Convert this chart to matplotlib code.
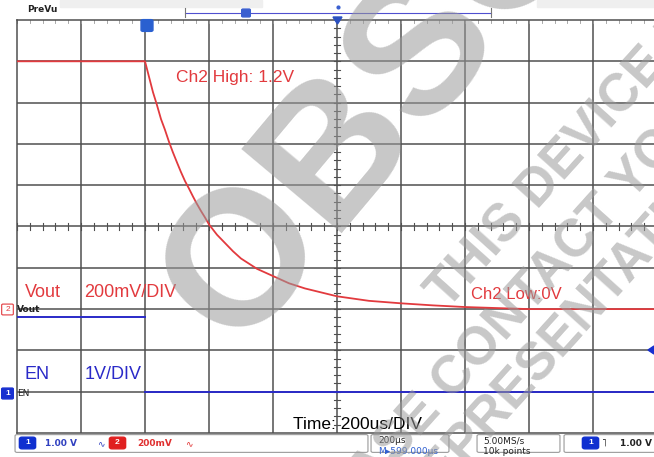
import numpy as np
import matplotlib
matplotlib.use('Agg')
import matplotlib.pyplot as plt
from matplotlib.patches import FancyBboxPatch, Rectangle, Polygon

plt.rcParams['font.family'] = ['Liberation Sans', 'DejaVu Sans']

W, H = 654, 457

# time base (us) and vertical settings
t_min, t_max = -400, 1600
n_div_y = 10
vout_zero_div = 3      # Ch2 ground marker
vout_scale = 0.2       # 200mV/div
en_zero_div = 1        # Ch1 ground marker
en_scale = 1.0         # 1V/div

# Vout (Ch2) samples, time in us, volts
vout_t = [-400, -200, 0, 10, 25, 37, 50, 62, 75, 87, 100, 112, 125, 137, 150, 162, 175, 187,
          200, 225, 250, 275, 300, 325, 350, 400, 450, 500, 600, 700, 800, 900, 1000,
          1100, 1200, 1400, 1600]
vout_v = [1.2, 1.2, 1.2, 1.14, 1.05, 0.99, 0.92, 0.87, 0.81, 0.76, 0.71, 0.665, 0.62, 0.585,
          0.545, 0.51, 0.475, 0.445, 0.41, 0.36, 0.32, 0.28, 0.245, 0.22, 0.195, 0.16, 0.125,
          0.10, 0.062, 0.04, 0.028, 0.018, 0.01, 0.005, 0.0, 0.0, 0.0]

# EN (Ch1) samples
en_t = [-400, 0, 0, 1600]
en_v = [1.8, 1.8, 0.0, 0.0]

red = '#e23a3e'
blue = '#2a2ac8'
grid_c = '#4f4f4f'


def fx(x):
    return x / W


def fy(y):
    return 1 - y / H


fig = plt.figure(figsize=(W / 100, H / 100), dpi=100)
fig.patch.set_facecolor('white')

ax = fig.add_axes([fx(17), fy(433), 640 / W, 413 / H])
ax.set_xlim(t_min, t_max)
ax.set_ylim(0, n_div_y)
ax.set_xticks([])
ax.set_yticks([])
for s in ax.spines.values():
    s.set_color(grid_c)
    s.set_linewidth(1.1)

# graticule
for xv in range(t_min + 200, t_max, 200):
    ax.axvline(xv, color=grid_c, lw=1.1, zorder=1)
for yv in range(1, n_div_y):
    ax.axhline(yv, color=grid_c, lw=1.1, zorder=1)
# minor ticks on the center lines
tc = (t_min + t_max) / 2
for k in np.arange(0, n_div_y, 0.2):
    ax.plot([tc - 8, tc + 8], [k, k], color=grid_c, lw=0.8, zorder=1)
for k in np.arange(t_min, t_max, 40):
    ax.plot([k, k], [5 - 0.08, 5 + 0.08], color=grid_c, lw=0.8, zorder=1)
    ax.plot([k, k], [n_div_y - 0.08, n_div_y], color='#9a9a9a', lw=0.6, zorder=1)

# traces
vout_t = np.array(vout_t)
vout_div = vout_zero_div + np.array(vout_v) / vout_scale
ax.plot(vout_t, vout_div, color=red, lw=1.3, zorder=3)

en_t = np.array(en_t)
en_v = np.array(en_v)
en_div = en_zero_div + en_v / en_scale
hi = en_v > 0
ax.plot(en_t[hi], en_div[hi], color=blue, lw=1.4, zorder=3)
ax.plot(en_t[~hi], en_div[~hi], color=blue, lw=1.4, zorder=3)

# annotations on screen
ax.text(0.012, (vout_zero_div + 0.2) / n_div_y, 'Vout', transform=ax.transAxes, color=red, fontsize=13, va='bottom')
ax.text(0.105, (vout_zero_div + 0.2) / n_div_y, '200mV/DIV', transform=ax.transAxes, color=red, fontsize=13, va='bottom')
ax.text(0.012, (en_zero_div + 0.2) / n_div_y, 'EN', transform=ax.transAxes, color=blue, fontsize=13, va='bottom')
ax.text(0.105, (en_zero_div + 0.2) / n_div_y, '1V/DIV', transform=ax.transAxes, color=blue, fontsize=13, va='bottom')
ax.text((176 - 17) / 640, 1 - (82 - 20) / 413, 'Ch2 High: 1.2V', transform=ax.transAxes, color=red, fontsize=12.5, va='baseline')
ax.text((471 - 17) / 640, 1 - (299 - 20) / 413, 'Ch2 Low:0V', transform=ax.transAxes, color=red, fontsize=12, va='baseline')
ax.text((293 - 17) / 640, 1 - (429 - 20) / 413, 'Time: 200us/DIV', transform=ax.transAxes, color='black', fontsize=12.5, va='baseline')

# top strip
fig.patches.append(Rectangle((fx(60), fy(7)), fx(202), 7 / H, transform=fig.transFigure, color='#efefef', zorder=0))
fig.patches.append(Rectangle((fx(537), fy(7)), fx(117), 7 / H, transform=fig.transFigure, color='#efefef', zorder=0))
fig.text(fx(27), fy(12), 'PreVu', fontsize=6.5, fontweight='bold', color='#222222', family='DejaVu Sans', va='baseline')
fig.lines.append(plt.Line2D([fx(185), fx(491)], [fy(12.5), fy(12.5)], color='#5050d0', lw=0.8, transform=fig.transFigure))
for xx in (185, 491):
    fig.lines.append(plt.Line2D([fx(xx), fx(xx)], [fy(8), fy(17)], color='#777777', lw=0.8, transform=fig.transFigure))
fig.patches.append(FancyBboxPatch((fx(243), fy(16)), fx(6), 6 / H, boxstyle='round,pad=0.002', transform=fig.transFigure, color='#3a5fd0', zorder=3))
fig.lines.append(plt.Line2D([fx(338)], [fy(7)], marker='o', ms=2, color='#3a5fd0', transform=fig.transFigure))
fig.patches.append(Polygon([(fx(333), fy(17)), (fx(342), fy(17)), (fx(337.5), fy(24))], closed=True, transform=fig.transFigure, color='#2a50c0', zorder=4))
fig.patches.append(FancyBboxPatch((fx(143), fy(30)), fx(8), 9 / H, boxstyle='round,pad=0.003', transform=fig.transFigure, color='#2a60d0', zorder=4))

# channel ground markers on the left
fig.patches.append(FancyBboxPatch((fx(3), fy(314)), fx(9), 9 / H, boxstyle='round,pad=0.002', transform=fig.transFigure, fc='white', ec=red, lw=0.8, zorder=4))
fig.text(fx(7.5), fy(309.5), '2', fontsize=6, color=red, ha='center', va='center', zorder=5)
fig.text(fx(17), fy(312), 'Vout', fontsize=6.5, fontweight='bold', color='#222222', family='DejaVu Sans', va='baseline')
fig.patches.append(FancyBboxPatch((fx(3), fy(398)), fx(9), 9 / H, boxstyle='round,pad=0.002', transform=fig.transFigure, color='#1830d0', zorder=4))
fig.text(fx(7.5), fy(393.5), '1', fontsize=6, color='white', ha='center', va='center', fontweight='bold', zorder=5)
fig.text(fx(17), fy(396), 'EN', fontsize=6.5, color='#222222', family='DejaVu Sans', va='baseline')
fig.patches.append(Polygon([(fx(648), fy(350)), (fx(654), fy(346)), (fx(654), fy(354))], closed=True, transform=fig.transFigure, color='#1830d0', zorder=4))

# bottom status bar
for x0, x1 in ((17, 366), (373, 447), (479, 558), (566, 660)):
    fig.patches.append(FancyBboxPatch((fx(x0), fy(451)), fx(x1 - x0), 15 / H, boxstyle='round,pad=0.003', transform=fig.transFigure, fc='white', ec='#9a9a9a', lw=0.8, zorder=2))
fig.patches.append(FancyBboxPatch((fx(22), fy(447)), fx(11), 8 / H, boxstyle='round,pad=0.004', transform=fig.transFigure, color='#1030d0', zorder=3))
fig.text(fx(27.5), fy(443), '1', fontsize=6, color='white', ha='center', va='center', fontweight='bold', zorder=4)
fig.text(fx(45), fy(446.5), '1.00 V', fontsize=6.5, color='#3040c0', fontweight='bold', family='DejaVu Sans', va='baseline', zorder=4)
fig.text(fx(97), fy(446.5), '∿', fontsize=6.5, color='#3040c0', family='DejaVu Sans', va='baseline', zorder=4)
fig.patches.append(FancyBboxPatch((fx(112), fy(447)), fx(11), 8 / H, boxstyle='round,pad=0.004', transform=fig.transFigure, color='#e02020', zorder=3))
fig.text(fx(117.5), fy(443), '2', fontsize=6, color='white', ha='center', va='center', fontweight='bold', zorder=4)
fig.text(fx(137), fy(446.5), '200mV', fontsize=6.5, color='#e03030', fontweight='bold', family='DejaVu Sans', va='baseline', zorder=4)
fig.text(fx(185), fy(446.5), '∿', fontsize=6.5, color='#e03030', family='DejaVu Sans', va='baseline', zorder=4)
fig.text(fx(378), fy(443), '200µs', fontsize=6.5, color='#222222', family='DejaVu Sans', va='baseline', zorder=4)
fig.text(fx(378), fy(454), 'M▸599.000µs', fontsize=6.5, color='#3060d0', family='DejaVu Sans', va='baseline', zorder=4)
fig.text(fx(483), fy(443), '5.00MS/s', fontsize=6.5, color='#222222', family='DejaVu Sans', va='baseline', zorder=4)
fig.text(fx(483), fy(454), '10k points', fontsize=6.5, color='#222222', family='DejaVu Sans', va='baseline', zorder=4)
fig.patches.append(FancyBboxPatch((fx(585), fy(447)), fx(11), 8 / H, boxstyle='round,pad=0.004', transform=fig.transFigure, color='#1030d0', zorder=3))
fig.text(fx(590.5), fy(443), '1', fontsize=6, color='white', ha='center', va='center', fontweight='bold', zorder=4)
fig.text(fx(602), fy(446.5), '˥', fontsize=7, color='#222222', family='DejaVu Sans', va='baseline', zorder=4)
fig.text(fx(620), fy(446.5), '1.00 V', fontsize=6.5, color='#222222', fontweight='bold', family='DejaVu Sans', va='baseline', zorder=4)

# watermark
wm = dict(color='#9a9a9a', alpha=0.55, fontweight='bold', rotation_mode='anchor', ha='left', va='baseline', zorder=10)
fig.text(fx(236), 106 / H, 'OBSOLETE', fontsize=138, rotation=50, **wm)
fig.text(fx(448), 146 / H, 'THIS DEVICE IS NO LONGER', fontsize=38, rotation=48, **wm)
fig.text(fx(302), -112 / H, 'PLEASE CONTACT YOUR', fontsize=38, rotation=48, **wm)
fig.text(fx(376), -110 / H, 'TI REPRESENTATIVE', fontsize=38, rotation=48, **wm)

fig.savefig('out.png', dpi=100)
